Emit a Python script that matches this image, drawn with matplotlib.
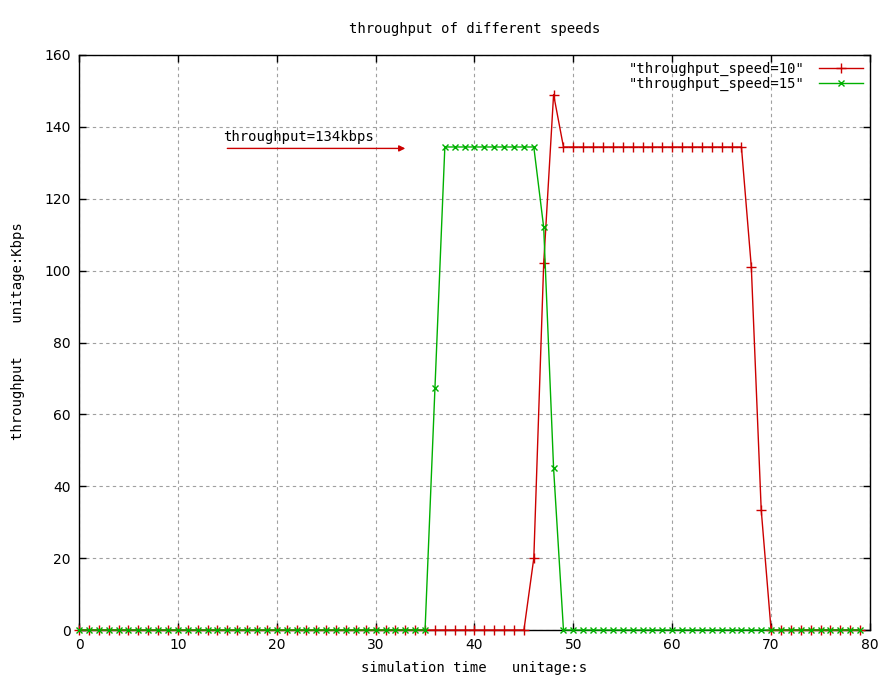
import matplotlib
matplotlib.use("Agg")
import matplotlib.pyplot as plt

# data
time_s = list(range(0, 80))
speed10 = ([0] * 46 + [20, 102, 149] + [134.4] * 19 + [101, 33.5] + [0] * 10)
speed15 = ([0] * 36 + [67.3] + [134.4] * 10 + [112, 45] + [0] * 31)
xticks = [0, 10, 20, 30, 40, 50, 60, 70, 80]
yticks = [0, 20, 40, 60, 80, 100, 120, 140, 160]

MONO = "DejaVu Sans Mono"
plt.rcParams["font.family"] = MONO

fig = plt.figure(figsize=(8.85, 6.82), dpi=100)
ax = fig.add_axes([0.0893, 0.0762, 0.8937, 0.8432])

red = "#cc0000"
green = "#00b000"
ax.plot(time_s, speed10, color=red, lw=1.0, marker="+", ms=7, mew=1.0,
        label='"throughput_speed=10"', clip_on=False, zorder=3)
ax.plot(time_s, speed15, color=green, lw=1.0, marker="x", ms=4.5, mew=1.0,
        label='"throughput_speed=15"', clip_on=False, zorder=3)

ax.set_xlim(0, 80)
ax.set_ylim(0, 160)
ax.set_xticks(xticks)
ax.set_yticks(yticks)
ax.tick_params(direction="in", length=5, width=1, top=True, right=True,
               labelsize=10, pad=6)
for lab in ax.get_xticklabels() + ax.get_yticklabels():
    lab.set_fontfamily("DejaVu Sans")
ax.grid(True, color="#a0a0a0", linestyle=(0, (3, 3)), lw=0.8)
for s in ax.spines.values():
    s.set_linewidth(1.0)

ax.set_title("throughput of different speeds", fontsize=10, pad=16)
ax.set_xlabel("simulation time   unitage:s", fontsize=10, labelpad=6)
ax.set_ylabel("throughput    unitage:Kbps", fontsize=10, labelpad=18)
ax.yaxis.set_label_coords(-0.068, 0.52)

ax.annotate("", xy=(33, 134), xytext=(15, 134),
            arrowprops=dict(arrowstyle="-|>", color=red, lw=1.0,
                            mutation_scale=9, shrinkA=0, shrinkB=0))
ax.text(14.6, 135.2, "throughput=134kbps", fontsize=10, va="bottom", ha="left")

ax.legend(loc="upper right", frameon=False, markerfirst=False, fontsize=10,
          handlelength=3.2, handletextpad=1.0, borderaxespad=0.1,
          labelspacing=0.05)

fig.savefig("out.png", dpi=100)
